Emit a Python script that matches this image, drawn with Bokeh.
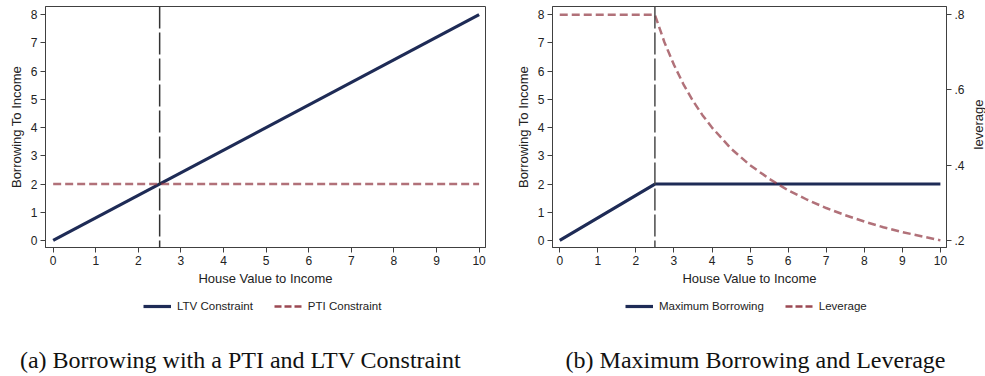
import math

from bokeh.plotting import figure
from bokeh.models import (Range1d, LinearAxis, FixedTicker, Span, Legend, LegendItem,
                          Label, CustomJSTickFormatter)
from bokeh.layouts import row, column
from bokeh.embed import file_html
from bokeh.resources import INLINE

# ---- data ----
x_ticks = [0, 1, 2, 3, 4, 5, 6, 7, 8, 9, 10]
y_ticks = [0, 1, 2, 3, 4, 5, 6, 7, 8]
lev_ticks = [0.2, 0.4, 0.6, 0.8]

# panel (a): LTV and PTI constraints on borrowing
ltv_x = [0, 10]
ltv_borrow = [0, 8]
pti_x = [0, 10]
pti_borrow = [2, 2]

# panel (b): binding constraint and resulting leverage
max_x = [0, 2.5, 10]
max_borrow = [0, 2, 2]
lev_x = [0, 2.5, 2.75, 3, 3.25, 3.5, 3.75, 4, 4.5, 5, 5.5, 6, 6.5, 7, 7.5, 8, 8.5, 9, 9.5, 10]
leverage = [0.8, 0.8, 0.727, 0.667, 0.615, 0.571, 0.533, 0.5, 0.444, 0.4, 0.364,
            0.333, 0.308, 0.286, 0.267, 0.25, 0.235, 0.222, 0.211, 0.2]

threshold = 2.5

legend_a = ["LTV Constraint", "PTI Constraint"]
legend_b = ["Maximum Borrowing", "Leverage"]
caption_a = "(a) Borrowing with a PTI and LTV Constraint"
caption_b = "(b) Maximum Borrowing and Leverage"

NAVY = "#1e2b56"
MAROON = "#903540"
SANS = "Liberation Sans"
SERIF = "Liberation Serif"
FRAME = "#404040"
TOP_H = 290

NAVY_STYLE = dict(line_color=NAVY, line_width=3.2)
MAROON_STYLE = dict(line_color=MAROON, line_alpha=0.7, line_width=2.5, line_dash="8 4")


def style_axis(ax):
    ax.major_tick_in = 0
    ax.major_tick_out = 5
    ax.minor_tick_line_color = None
    ax.axis_line_color = FRAME
    ax.major_tick_line_color = FRAME
    ax.major_label_text_font = SANS
    ax.major_label_text_font_size = "12px"
    ax.major_label_text_color = "#222222"
    ax.major_label_standoff = 3
    ax.axis_label_text_font = SANS
    ax.axis_label_text_font_size = "13px"
    ax.axis_label_text_font_style = "normal"
    ax.axis_label_text_color = "#222222"


def make_panel(left, frame_w, right, x0, x1, vline_color):
    p = figure(frame_width=frame_w, frame_height=241,
               min_border_left=left, min_border_right=right,
               min_border_top=6, min_border_bottom=TOP_H - 247,
               x_range=Range1d(x0, x1), y_range=Range1d(-0.25, 8.29),
               output_backend="svg", toolbar_location=None)
    p.xgrid.visible = False
    p.ygrid.visible = False
    p.outline_line_color = FRAME
    p.outline_line_width = 1
    p.xaxis.ticker = FixedTicker(ticks=x_ticks)
    p.yaxis.ticker = FixedTicker(ticks=y_ticks)
    p.xaxis.axis_label = "House Value to Income"
    p.yaxis.axis_label = "Borrowing To Income"
    p.xaxis.axis_label_standoff = 3
    p.yaxis.axis_label_standoff = 4
    style_axis(p.xaxis[0])
    style_axis(p.yaxis[0])
    p.add_layout(Span(location=threshold, dimension="height", line_color=vline_color,
                      line_width=1.5, line_dash="22 4"))
    return p


# ---- panel (a) ----
pa = make_panel(45, 440, 5, -0.18, 10.15, "#333333")
pa.line(ltv_x, ltv_borrow, **NAVY_STYLE)
pa.line(pti_x, pti_borrow, **MAROON_STYLE)

# ---- panel (b) ----
pb = make_panel(62, 394, 22, -0.19, 10.16, "#4a4a4a")
pb.extra_y_ranges = {"lev": Range1d(0.181, 0.822)}
lev_axis = LinearAxis(y_range_name="lev",
                      ticker=FixedTicker(ticks=lev_ticks),
                      formatter=CustomJSTickFormatter(
                          code="return tick.toFixed(1).replace(/^0/, '');"))
style_axis(lev_axis)
pb.add_layout(lev_axis, "right")
pb.line(max_x, max_borrow, **NAVY_STYLE)
pb.line(lev_x, leverage, y_range_name="lev", **MAROON_STYLE)

# ---- narrow column holding the right-hand axis title ----
side = figure(width=17, height=TOP_H, min_border=0,
              x_range=Range1d(0, 17), y_range=Range1d(0, TOP_H),
              x_axis_type=None, y_axis_type=None,
              output_backend="svg", toolbar_location=None)
side.xgrid.visible = False
side.ygrid.visible = False
side.outline_line_color = None
side.add_layout(Label(x=10, y=TOP_H - 142, text="leverage", angle=math.pi / 2,
                      text_align="center", text_baseline="middle",
                      text_font=SANS, text_font_size="13px", text_color="#222222"))

# ---- strip underneath: legends and sub-captions ----
strip = figure(width=985, height=86, min_border=0,
               x_range=Range1d(0, 985), y_range=Range1d(86, 0),
               x_axis_type=None, y_axis_type=None,
               output_backend="svg", toolbar_location=None)
strip.xgrid.visible = False
strip.ygrid.visible = False
strip.outline_line_color = None

# legend keys only: a single undefined point, so nothing is drawn in the strip itself
nan = float("nan")
KEY_MAROON = dict(MAROON_STYLE, line_alpha=0.9, line_dash="7 3")
key_navy_a = strip.line([nan], [nan], **NAVY_STYLE)
key_maroon_a = strip.line([nan], [nan], **KEY_MAROON)
key_navy_b = strip.line([nan], [nan], **NAVY_STYLE)
key_maroon_b = strip.line([nan], [nan], **KEY_MAROON)


def add_legend(labels, renderers, lx):
    leg = Legend(items=[LegendItem(label=t, renderers=[r]) for t, r in zip(labels, renderers)],
                 orientation="horizontal", location=(lx, 63),
                 border_line_alpha=0, background_fill_alpha=0,
                 label_text_font=SANS, label_text_font_size="11.5px",
                 label_text_color="#222222",
                 glyph_width=28, glyph_height=14, label_height=14,
                 label_standoff=6, spacing=21, padding=0, margin=0)
    strip.add_layout(leg, "center")


add_legend(legend_a, [key_navy_a, key_maroon_a], 143)
add_legend(legend_b, [key_navy_b, key_maroon_b], 625)

for text, cx in [(caption_a, 240), (caption_b, 755)]:
    strip.add_layout(Label(x=cx, y=69, text=text, text_align="center",
                           text_baseline="alphabetic", text_font=SERIF,
                           text_font_size="24px", text_color="#111111"))

layout = column(row(pa, pb, side, spacing=0), strip, spacing=0)
open("out.html", "w").write(file_html(layout, INLINE))
